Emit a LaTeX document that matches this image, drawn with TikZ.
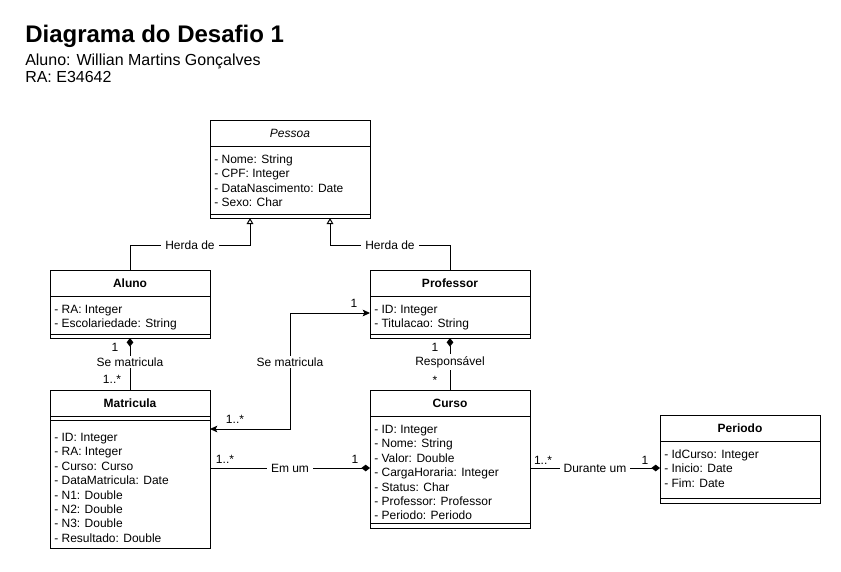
\documentclass[tikz,border=0pt]{standalone}
\usepackage{fontspec}
\setmainfont{Liberation Sans}
\usetikzlibrary{arrows.meta,calc}
\begin{document}
\begin{tikzpicture}[x=0.75pt,y=-0.75pt,
  cls/.style={draw, line width=0.75pt, inner sep=0, outer sep=0, anchor=north west, minimum width=120pt},
  attr/.style={font=\fontsize{9}{10.8}\selectfont, anchor=base west, inner sep=0},
  hdr/.style={font=\bfseries\fontsize{9}{10.8}\selectfont, anchor=base, inner sep=0},
  lbl/.style={fill=white, font=\fontsize{9}{10.8}\selectfont, inner xsep=3pt, inner ysep=1.5pt},
  mult/.style={font=\fontsize{9}{10.8}\selectfont, inner sep=0},
  conn/.style={line width=0.75pt},
  sep/.style={line width=0.75pt},
  inh/.style={conn, -{Triangle[open, length=4.5pt, width=5pt]}},
  comp/.style={conn, {Diamond[length=6.5pt, width=5pt]}-},
  assoc/.style={conn, {Stealth[length=5.5pt, width=5pt, inset=1.2pt]}-{Stealth[length=5.5pt, width=5pt, inset=1.2pt]}}
]
\useasboundingbox (0,0) rectangle (841,571);

% Title
\node[anchor=base west, inner sep=0, font=\bfseries\fontsize{18}{21}\selectfont] (title) at (25,42) {Diagrama do Desafio 1};
\node[anchor=base west, inner sep=0, font=\fontsize{12}{14}\selectfont] (sub1) at (25,65) {Aluno: Willian Martins Gonçalves};
\node[anchor=base west, inner sep=0, font=\fontsize{12}{14}\selectfont] (sub2) at (25,82) {RA: E34642};

% Pessoa
\node[cls, minimum height=73.5pt] (pessoa) at (210,120) {};
\draw[sep] (210,146) -- (370,146);
\draw[sep] (210,214) -- (370,214);
\node[hdr, font=\itshape\fontsize{9}{10.8}\selectfont] (pessoah) at (290,137.5) {Pessoa};
\foreach \t [count=\i from 0] in {- Nome: String, - CPF: Integer, - DataNascimento: Date, - Sexo: Char}
  \node[attr] at (214,163.5+14.4*\i) {\t};

% Aluno
\node[cls, minimum height=51pt] (aluno) at (50,270) {};
\draw[sep] (50,296) -- (210,296);
\draw[sep] (50,334) -- (210,334);
\node[hdr] (alunoh) at (130,287.5) {Aluno};
\foreach \t [count=\i from 0] in {- RA: Integer, - Escolariedade: String}
  \node[attr] at (54,313.5+14.4*\i) {\t};

% Professor
\node[cls, minimum height=51pt] (professor) at (370,270) {};
\draw[sep] (370,296) -- (530,296);
\draw[sep] (370,334) -- (530,334);
\node[hdr] (professorh) at (450,287.5) {Professor};
\foreach \t [count=\i from 0] in {- ID: Integer, - Titulacao: String}
  \node[attr] at (374,313.5+14.4*\i) {\t};

% Matricula
\node[cls, minimum height=118.5pt] (matricula) at (50,390) {};
\draw[sep] (50,416) -- (210,416);
\draw[sep] (50,420) -- (210,420);
\node[hdr] (matriculah) at (130,407.5) {Matricula};
\foreach \t [count=\i from 0] in {- ID: Integer, - RA: Integer, - Curso: Curso, - DataMatricula: Date, - N1: Double, - N2: Double, - N3: Double, - Resultado: Double}
  \node[attr] at (54,441.5+14.4*\i) {\t};

% Curso
\node[cls, minimum height=103.5pt] (curso) at (370,390) {};
\draw[sep] (370,416) -- (530,416);
\draw[sep] (370,523) -- (530,523);
\node[hdr] (cursoh) at (450,407.5) {Curso};
\foreach \t [count=\i from 0] in {- ID: Integer, - Nome: String, - Valor: Double, - CargaHoraria: Integer, - Status: Char, - Professor: Professor, - Periodo: Periodo}
  \node[attr] at (374,433.5+14.4*\i) {\t};

% Periodo
\node[cls, minimum height=66pt] (periodo) at (660,415) {};
\draw[sep] (660,441) -- (820,441);
\draw[sep] (660,498) -- (820,498);
\node[hdr] (periodoh) at (740,432.5) {Periodo};
\foreach \t [count=\i from 0] in {- IdCurso: Integer, - Inicio: Date, - Fim: Date}
  \node[attr] at (664,458.5+14.4*\i) {\t};

% Inheritance
\draw[inh] (aluno.north) -- (130,245) -- node[lbl] {Herda de} (250,245) -- ($(pessoa.south)+(-40,0)$);
\draw[inh] (professor.north) -- (450,245) -- node[lbl] {Herda de} (330,245) -- ($(pessoa.south)+(40,0)$);

% Aluno - Matricula
\draw[comp] (aluno.south) -- node[lbl, pos=0.46] {Se matricula} (matricula.north);
\node[mult] at (115,347) {1};
\node[mult] at (112,379) {1..*};

% Professor - Curso
\draw[comp] (professor.south) -- node[lbl, pos=0.46] {Responsável} (curso.north);
\node[mult] at (435,347) {1};
\node[mult] at (435,380) {*};

% Professor - Matricula
\draw[assoc] ($(matricula.north east)+(0,39)$) -- (290,429) -- (290,313) -- ($(professor.north west)+(0,43)$);
\node[lbl] at (290,362) {Se matricula};
\node[mult] at (354,303) {1};
\node[mult] at (235,419) {1..*};

% Matricula - Curso
\draw[comp] ($(curso.north west)+(0,78)$) -- node[lbl] {Em um} ($(matricula.north east)+(0,78)$);
\node[mult] at (225,459) {1..*};
\node[mult] at (355,459) {1};

% Curso - Periodo
\draw[comp] ($(periodo.north west)+(0,53)$) -- node[lbl] {Durante um} ($(curso.north east)+(0,78)$);
\node[mult] at (543,460) {1..*};
\node[mult] at (645,460) {1};
\end{tikzpicture}
\end{document}
